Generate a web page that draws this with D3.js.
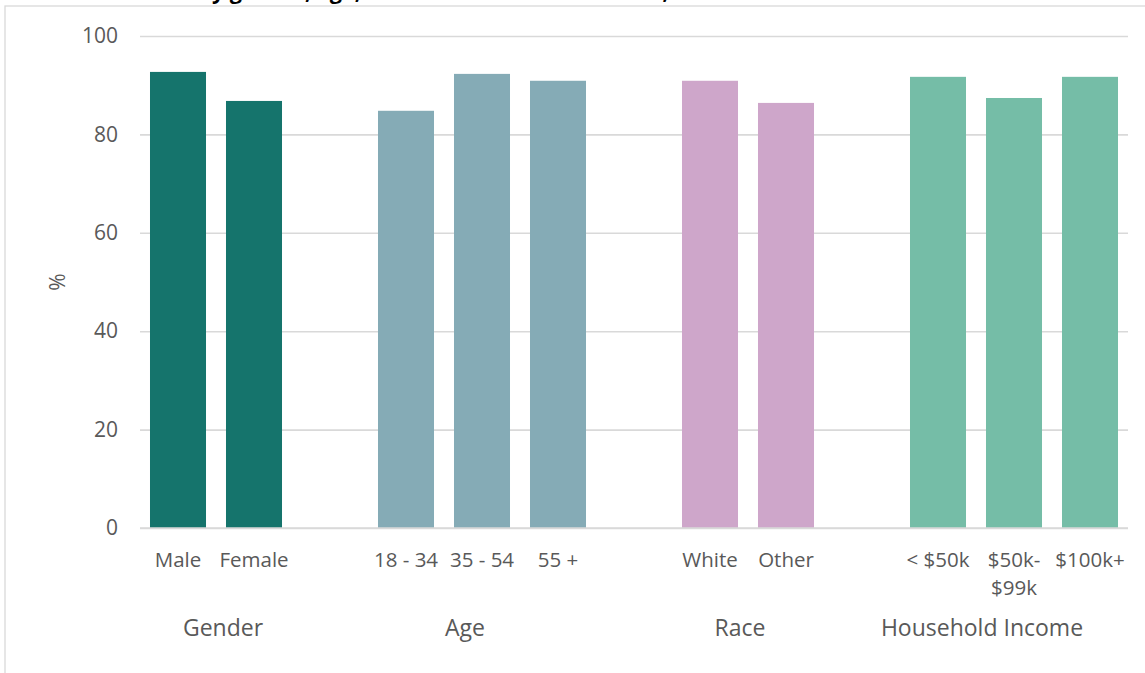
<!DOCTYPE html>
<html>
<head>
<meta charset="utf-8">
<script src="https://cdn.jsdelivr.net/npm/d3@7"></script>
<style>
  html, body { margin: 0; padding: 0; background: #fff; }
  svg { display: block; }
  text { font-family: "Open Sans", "Liberation Sans", sans-serif; fill: #595959; }
</style>
</head>
<body>
<svg id="chart" width="1145" height="673"></svg>
<script>
// ---- data ----
const groups = ["Gender", "Age", "Race", "Household Income"];
const groupSizes = [2, 3, 2, 3];
const categories = ["Male", "Female", "18 - 34", "35 - 54", "55 +", "White", "Other", "< $50k", "$50k-\n$99k", "$100k+"];
const values = [92.7, 86.8, 84.8, 92.3, 90.9, 90.9, 86.4, 91.7, 87.4, 91.7];
const yTicks = [0, 20, 40, 60, 80, 100];
const yLabel = "%";
const title = "Share of residents by gender, age, race and household income, 2021";

// ---- styles / layout ----
const groupColors = ["#15746C", "#85ABB6", "#CEA6CA", "#75BDA7"];
const groupLabelNudge = [7, -17, -8, -32];

const svg = d3.select("#chart");

// outer frame
svg.append("rect")
  .attr("x", 5).attr("y", 6).attr("width", 1200).attr("height", 700)
  .attr("fill", "none").attr("stroke", "#d9d9d9").attr("stroke-width", 1.3);

// title (cut off at the top edge, as in the reference)
const t = svg.append("text")
  .attr("y", -1)
  .style("font-weight", "bold")
  .style("font-size", "21px")
  .style("fill", "#000")
  .text(title);
{
  const node = t.node();
  const iy = title.indexOf("y gender");
  const ic = title.lastIndexOf(",");
  const span = node.getSubStringLength(iy, ic - iy + 1);
  const fs = 21 * (669 - 212) / span;
  t.style("font-size", fs + "px");
  const off = node.getSubStringLength(0, iy);
  t.attr("x", 212 - off);
}

// group index per category
const groupOf = [];
groupSizes.forEach((n, g) => { for (let i = 0; i < n; i++) groupOf.push(g); });

// slots (with spacer between groups)
const slots = [];
let ci = 0;
groupSizes.forEach((n, g) => {
  if (g > 0) slots.push("__gap" + g);
  for (let i = 0; i < n; i++) slots.push(categories[ci++]);
});

const x = d3.scaleBand().domain(slots).range([140, 1128])
  .paddingInner(0.263).paddingOuter(0.1315);
const y = d3.scaleLinear().domain([0, 100]).range([528, 36]);

// y axis gridlines + labels
const yAxis = svg.append("g")
  .attr("transform", "translate(140,0)")
  .call(d3.axisLeft(y).tickValues(yTicks).tickSize(-988).tickPadding(22));
yAxis.select(".domain").remove();
yAxis.selectAll(".tick line").attr("stroke", "#d9d9d9").attr("stroke-width", 1.6);
yAxis.selectAll(".tick text")
  .style("font-size", "21px").style("fill", "#595959")
  .attr("font-family", null);

// bars
svg.append("g").selectAll("rect")
  .data(values)
  .join("rect")
  .attr("x", (d, i) => x(categories[i]))
  .attr("width", x.bandwidth())
  .attr("y", d => y(d))
  .attr("height", d => y(0) - y(d))
  .attr("fill", (d, i) => groupColors[groupOf[i]]);

// zero line on top
svg.append("line")
  .attr("x1", 140).attr("x2", 1128)
  .attr("y1", y(0)).attr("y2", y(0))
  .attr("stroke", "#d9d9d9").attr("stroke-width", 1.6);

// category labels
const xAxis = svg.append("g")
  .attr("transform", `translate(0,${y(0)})`)
  .call(d3.axisBottom(x).tickValues(categories).tickSize(0).tickPadding(0));
xAxis.select(".domain").remove();
xAxis.selectAll(".tick text")
  .attr("y", 39).attr("dy", null)
  .style("font-size", "20.5px").style("fill", "#595959")
  .attr("font-family", null)
  .each(function(d) {
    const lines = d.split("\n");
    const sel = d3.select(this).text(null);
    lines.forEach((l, k) => {
      sel.append("tspan").attr("x", 0).attr("dy", k === 0 ? 0 : 28).text(l);
    });
  });

// group labels
let start = 0;
groupSizes.forEach((n, g) => {
  const first = categories[start], last = categories[start + n - 1];
  const cx = (x(first) + x(last) + x.bandwidth()) / 2 + groupLabelNudge[g];
  svg.append("text")
    .attr("x", cx).attr("y", 636)
    .attr("text-anchor", "middle")
    .style("font-size", "23px")
    .text(groups[g]);
  start += n;
});

// y label
svg.append("text")
  .attr("transform", "translate(65,282) rotate(-90)")
  .attr("text-anchor", "middle")
  .style("font-size", "21px")
  .text(yLabel);
</script>
</body>
</html>
